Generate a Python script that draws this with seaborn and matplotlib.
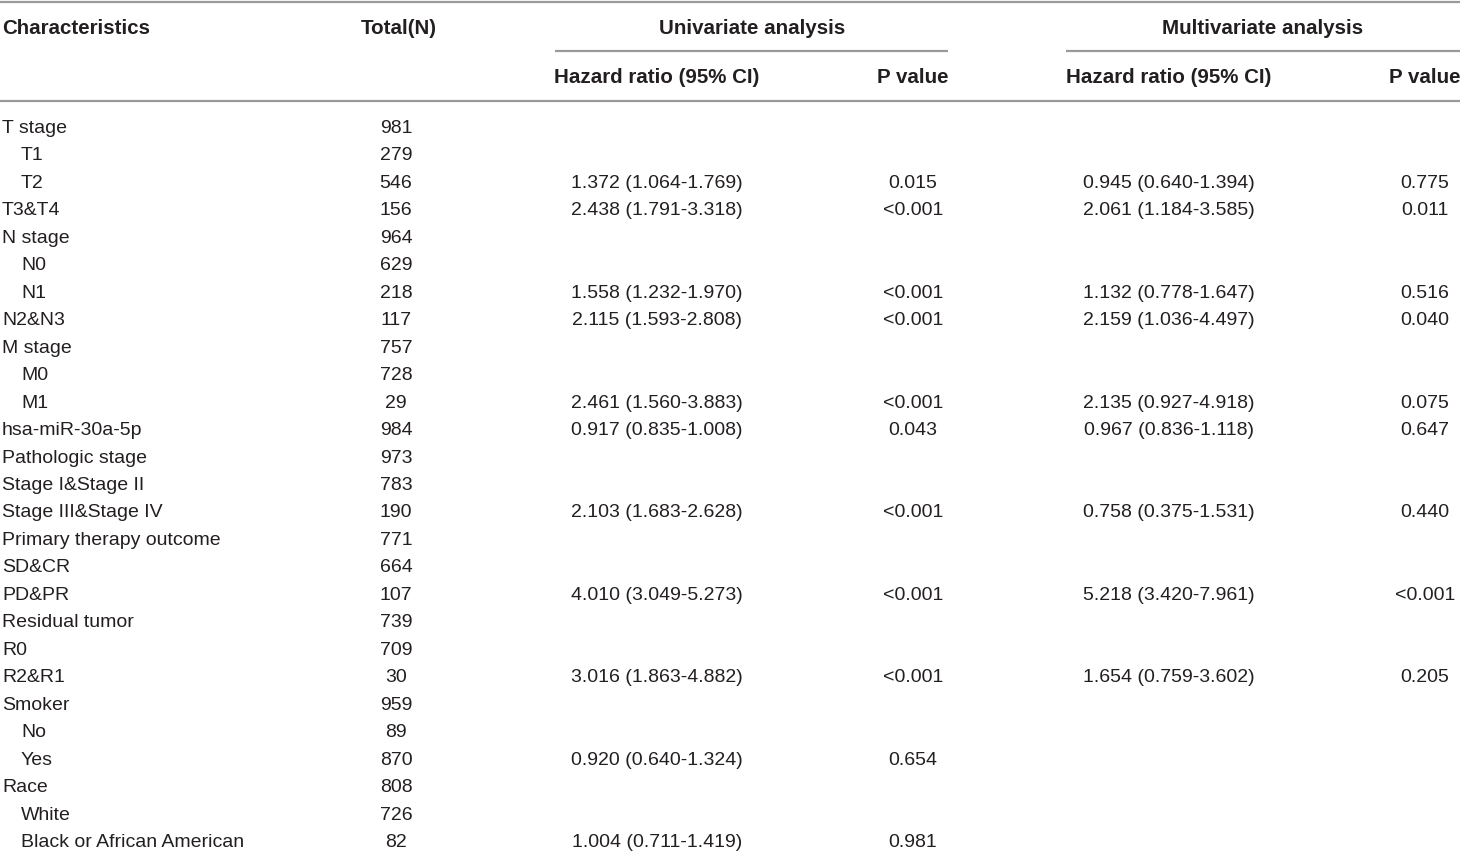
import matplotlib
matplotlib.use("Agg")
import matplotlib.pyplot as plt
from matplotlib import font_manager
import seaborn as sns

# ---------------- data ----------------
characteristics = ["T stage", "T1", "T2", "T3&T4", "N stage", "N0", "N1", "N2&N3",
                   "M stage", "M0", "M1", "hsa-miR-30a-5p", "Pathologic stage",
                   "Stage I&Stage II", "Stage III&Stage IV", "Primary therapy outcome",
                   "SD&CR", "PD&PR", "Residual tumor", "R0", "R2&R1", "Smoker", "No",
                   "Yes", "Race", "White", "Black or African American"]
indented = [0, 1, 1, 0, 0, 1, 1, 0, 0, 1, 1, 0, 0, 0, 0, 0, 0, 0, 0, 0, 0, 0, 1, 1, 0, 1, 1]
totals = ["981", "279", "546", "156", "964", "629", "218", "117", "757", "728", "29",
          "984", "973", "783", "190", "771", "664", "107", "739", "709", "30", "959",
          "89", "870", "808", "726", "82"]
uni_hr = ["", "", "1.372 (1.064-1.769)", "2.438 (1.791-3.318)", "", "", "1.558 (1.232-1.970)",
          "2.115 (1.593-2.808)", "", "", "2.461 (1.560-3.883)", "0.917 (0.835-1.008)", "", "",
          "2.103 (1.683-2.628)", "", "", "4.010 (3.049-5.273)", "", "", "3.016 (1.863-4.882)",
          "", "", "0.920 (0.640-1.324)", "", "", "1.004 (0.711-1.419)"]
uni_p = ["", "", "0.015", "<0.001", "", "", "<0.001", "<0.001", "", "", "<0.001", "0.043",
         "", "", "<0.001", "", "", "<0.001", "", "", "<0.001", "", "", "0.654", "", "", "0.981"]
multi_hr = ["", "", "0.945 (0.640-1.394)", "2.061 (1.184-3.585)", "", "", "1.132 (0.778-1.647)",
            "2.159 (1.036-4.497)", "", "", "2.135 (0.927-4.918)", "0.967 (0.836-1.118)", "", "",
            "0.758 (0.375-1.531)", "", "", "5.218 (3.420-7.961)", "", "", "1.654 (0.759-3.602)",
            "", "", "", "", "", ""]
multi_p = ["", "", "0.775", "0.011", "", "", "0.516", "0.040", "", "", "0.075", "0.647",
           "", "", "0.440", "", "", "<0.001", "", "", "0.205", "", "", "", "", "", ""]
col_headers = ["Characteristics", "Total(N)", "Hazard ratio (95% CI)", "P value",
               "Hazard ratio (95% CI)", "P value"]
group_headers = ["Univariate analysis", "Multivariate analysis"]

# ---------------- style ----------------
sns.set_theme(style="white")
avail = {f.name for f in font_manager.fontManager.ttflist}
fam = "Liberation Sans Narrow" if "Liberation Sans Narrow" in avail else "Liberation Sans"
plt.rcParams["font.family"] = [fam, "DejaVu Sans"]

W, H = 1460, 852
fig = plt.figure(figsize=(W / 100, H / 100), dpi=100)
ax = fig.add_axes([0, 0, 1, 1])
ax.set_xlim(0, W)
ax.set_ylim(H, 0)
ax.axis("off")

txt = "#231f20"
line_c = "#9a9a9a"
fs = 14.0
fsb = 14.8

# rules
ax.hlines(1.5, 0, W, color=line_c, lw=1.6)
ax.hlines(100.5, 0, W, color=line_c, lw=1.6)
ax.hlines(50.5, 555, 948, color=line_c, lw=1.6)
ax.hlines(50.5, 1066, W, color=line_c, lw=1.6)

# headers
hy1, hy2 = 28.5, 77.5
kw = dict(va="center", fontsize=fsb, fontweight="bold", color=txt)
ax.text(2, hy1, col_headers[0], ha="left", **kw)
ax.text(399, hy1, col_headers[1], ha="center", **kw)
ax.text(752, hy1, group_headers[0], ha="center", **kw)
ax.text(1263, hy1, group_headers[1], ha="center", **kw)
ax.text(657, hy2, col_headers[2], ha="center", **kw)
ax.text(913, hy2, col_headers[3], ha="center", **kw)
ax.text(1169, hy2, col_headers[4], ha="center", **kw)
ax.text(1425, hy2, col_headers[5], ha="center", **kw)

# body
y0, dy = 128.5, 27.46
for i, name in enumerate(characteristics):
    y = y0 + i * dy
    x = 21 if indented[i] else 2
    ax.text(x, y, name, ha="left", va="center", fontsize=fs, color=txt)
    ax.text(396, y, totals[i], ha="center", va="center", fontsize=fs, color=txt)
    ax.text(657, y, uni_hr[i], ha="center", va="center", fontsize=fs, color=txt)
    ax.text(913, y, uni_p[i], ha="center", va="center", fontsize=fs, color=txt)
    ax.text(1169, y, multi_hr[i], ha="center", va="center", fontsize=fs, color=txt)
    ax.text(1425, y, multi_p[i], ha="center", va="center", fontsize=fs, color=txt)

fig.savefig("out.png", dpi=100, facecolor="white")
